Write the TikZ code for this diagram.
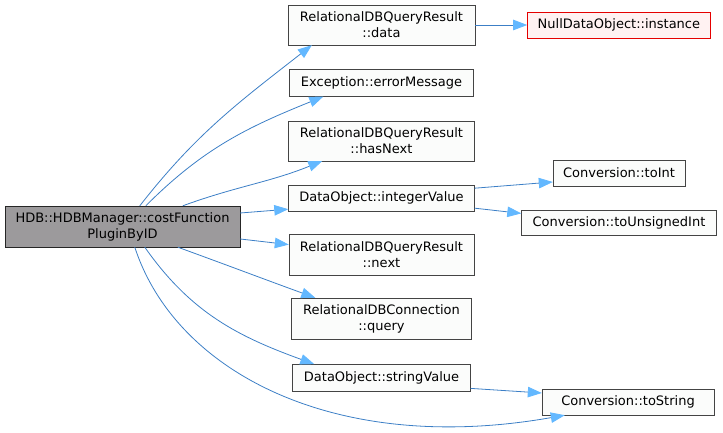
\documentclass[tikz,border=0pt]{standalone}
\usepackage{fontspec}
\setmainfont{DejaVu Sans}
\usetikzlibrary{arrows.meta, positioning}
\definecolor{edgeblue}{HTML}{3C7FC6}
\definecolor{headblue}{HTML}{63B8FF}
\definecolor{boxline}{HTML}{444444}
\definecolor{boxfill}{HTML}{FBFCFB}
\definecolor{rootgray}{HTML}{9C9A9C}
\tikzset{
    block_white/.style={rectangle, draw=boxline, fill=boxfill, align=center, inner sep=0pt, font=\fontsize{13}{16}\selectfont},
    block_gray/.style={block_white, draw=black!85, fill=rootgray},
    block_red/.style={block_white, draw=red!90!black, fill=red!5},
    arrow/.style={-{Triangle[length=14pt,width=10.5pt,color=headblue]}, draw=edgeblue, line width=0.8pt}
}

\begin{document}
\begin{tikzpicture}[x=1pt,y=1pt,node distance=24pt]
\useasboundingbox (0,0) rectangle (723,433);

\node (root) [block_gray,minimum width=235pt,minimum height=41pt] at (122.5,206.5)
    {HDB::HDBManager::costFunction\\PluginByID};

% called functions
\node (data) [block_white,minimum width=187pt,minimum height=40pt] at (381.5,408)
    {RelationalDBQueryResult\\::data};

\node (error) [block_white,below=of data,
    minimum width=184pt,minimum height=27pt]
    {Exception::errorMessage};

\node (hasnext) [block_white,below=of error,
    minimum width=186pt,minimum height=40pt]
    {RelationalDBQueryResult\\::hasNext};

\node (intval) [block_white,below=of hasnext,
    minimum width=186pt,minimum height=26pt]
    {DataObject::integerValue};

\node (next) [block_white,below=23pt of intval,
    minimum width=185pt,minimum height=41pt]
    {RelationalDBQueryResult\\::next};

\node (query) [block_white,below=22pt of next,
    minimum width=180pt,minimum height=41pt]
    {RelationalDBConnection\\::query};

\node (strval) [block_white,below=25pt of query,
    minimum width=178pt,minimum height=27pt]
    {DataObject::stringValue};

% second level
\node (instance) [block_red,right=52pt of data,
    minimum width=183pt,minimum height=26pt]
    {NullDataObject::instance};

\node (toint) [block_white,minimum width=132pt,minimum height=26pt] at (619,260)
    {Conversion::toInt};

\node (touint) [block_white,below=of toint,
    minimum width=195pt,minimum height=25pt]
    {Conversion::toUnsignedInt};

\node (tostring) [block_white,minimum width=172pt,minimum height=26pt] at (628,31)
    {Conversion::toString};

% calls from the root
\draw[arrow] ([xshift=135pt]root.north west) to[out=52,in=218] ([xshift=24pt]data.south west);
\draw[arrow] ([xshift=141pt]root.north west) to[out=45,in=202] ([xshift=34pt]error.south west);
\draw[arrow] ([xshift=178pt]root.north west) to[out=20,in=202] ([xshift=34pt]hasnext.south west);
\draw[arrow] ([yshift=13.5pt]root.east) -- ([yshift=-11pt]intval.west);
\draw[arrow] ([yshift=-12.5pt]root.east) -- ([yshift=10.5pt]next.west);
\draw[arrow] ([xshift=173pt]root.south west) to[out=-20,in=160] ([xshift=24pt]query.north west);
\draw[arrow] ([xshift=140pt]root.south west) to[out=-55,in=160] ([xshift=22pt]strval.north west);
\draw[arrow] ([xshift=130pt]root.south west)
    to[out=-72,in=190,out distance=130pt,in distance=235pt] ([xshift=23pt]tostring.south west);

% second level calls
\draw[arrow] (data.east) -- (instance.west);
\draw[arrow] ([yshift=10pt]intval.east) -- ([yshift=-9pt]toint.west);
\draw[arrow] ([yshift=-10pt]intval.east) -- ([yshift=9.5pt]touint.west);
\draw[arrow] ([yshift=-10.5pt]strval.east) -- ([yshift=9pt]tostring.west);

\end{tikzpicture}
\end{document}
